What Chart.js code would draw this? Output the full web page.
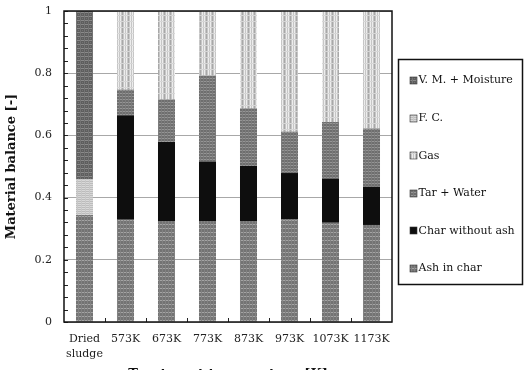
<!DOCTYPE html>
<html><head><meta charset="utf-8">
<script src="https://cdn.jsdelivr.net/npm/chart.js@4.4.1/dist/chart.umd.min.js"></script>
<style>html,body{margin:0;padding:0;background:#fff}#wrap{width:524px;height:370px;position:relative}</style>
</head><body><div id="wrap"><canvas id="c" width="524" height="370"></canvas></div>
<script>
// ---- data ----
const categories = [["Dried", "sludge"], "573K", "673K", "773K", "873K", "973K", "1073K", "1173K"];
const ashInChar       = [0.344, 0.329, 0.325, 0.325, 0.325, 0.331, 0.319, 0.312];
const charWithoutAsh  = [null,  0.336, 0.254, 0.191, 0.177, 0.148, 0.142, 0.123];
const fixedCarbon     = [0.115, null,  null,  null,  null,  null,  null,  null];
const tarWater        = [null,  0.082, 0.137, 0.277, 0.185, 0.133, 0.182, 0.187];
const gasYield        = [null,  0.253, 0.284, 0.207, 0.313, 0.388, 0.357, 0.378];
const volatileMoist   = [0.541, null,  null,  null,  null,  null,  null,  null];
const yTickValues = [0, 0.2, 0.4, 0.6, 0.8, 1];
const yTickLabels = ["0", "0.2", "0.4", "0.6", "0.8", "1"];
const legendOrder = ["V. M. + Moisture", "F. C.", "Gas", "Tar + Water", "Char without ash", "Ash in char"];

// ---- textures ----
function tile(w, h, base, painter) {
  const c = document.createElement('canvas'); c.width = w; c.height = h;
  const g = c.getContext('2d'); g.fillStyle = base; g.fillRect(0, 0, w, h);
  painter(g);
  return document.getElementById('c').getContext('2d').createPattern(c, 'repeat');
}
const patAsh = tile(6, 4, '#737373', g => { g.fillStyle = '#a4a4a4'; g.fillRect(0, 0, 6, 1); g.fillStyle = '#828282'; g.fillRect(0, 0, 1, 4); g.fillRect(3, 0, 1, 4); });
const patChar = '#0e0e0e';
const patTar = tile(6, 3, '#6e6e6e', g => { g.fillStyle = '#959595'; g.fillRect(0, 0, 6, 1); g.fillStyle = '#7c7c7c'; g.fillRect(2, 0, 1, 3); g.fillRect(5, 0, 1, 3); });
const patGas = tile(6, 6, '#c6c6c6', g => { g.fillStyle = '#ededed'; g.fillRect(0, 0, 1, 6); g.fillRect(4, 0, 1, 6); g.fillStyle = '#a8a8a8'; g.fillRect(2, 0, 1, 6); g.fillStyle = '#d6d6d6'; g.fillRect(0, 3, 6, 1); });
const patFC = tile(4, 4, '#bcbcbc', g => { g.fillStyle = '#d8d8d8'; g.fillRect(0, 0, 4, 1); g.fillRect(0, 2, 4, 1); g.fillStyle = '#c8c8c8'; g.fillRect(1, 0, 1, 4); });
const patVM = tile(4, 4, '#5e5e5e', g => { g.fillStyle = '#8a8a8a'; g.fillRect(0, 0, 4, 1); g.fillStyle = '#747474'; g.fillRect(0, 0, 1, 4); g.fillRect(2, 2, 1, 1); });

const FONT = "'DejaVu Serif', serif";

const datasets = [
  { label: "Ash in char", data: ashInChar, backgroundColor: patAsh },
  { label: "Char without ash", data: charWithoutAsh, backgroundColor: patChar },
  { label: "F. C.", data: fixedCarbon, backgroundColor: patFC },
  { label: "Tar + Water", data: tarWater, backgroundColor: patTar },
  { label: "Gas", data: gasYield, backgroundColor: patGas },
  { label: "V. M. + Moisture", data: volatileMoist, backgroundColor: patVM }
].map(d => Object.assign(d, { borderWidth: 0, barPercentage: 0.415, categoryPercentage: 1 }));

const framePlugin = {
  id: 'frame',
  afterDatasetsDraw(chart) {
    const { ctx, chartArea: a, scales } = chart;
    const y = scales.y, x = scales.x;
    ctx.save();
    ctx.strokeStyle = '#222'; ctx.lineWidth = 1;
    for (let v = 0; v <= 1.0001; v += 0.04) {
      const py = Math.round(y.getPixelForValue(v)) + 0.5;
      ctx.beginPath(); ctx.moveTo(a.left, py); ctx.lineTo(a.left + 4, py); ctx.stroke();
    }
    for (let i = 1; i < categories.length; i++) {
      const px = Math.round((x.getPixelForValue(i - 1) + x.getPixelForValue(i)) / 2) + 0.5;
      ctx.beginPath(); ctx.moveTo(px, a.bottom); ctx.lineTo(px, a.bottom - 4); ctx.stroke();
    }
    ctx.strokeStyle = '#111'; ctx.lineWidth = 1.5;
    ctx.strokeRect(a.left, a.top, a.right - a.left, a.bottom - a.top);
    ctx.restore();
  },
  afterDraw(chart) {
    const { ctx } = chart;
    const bx = 398.5, by = 59.5, bw = 124, bh = 225;
    ctx.save();
    ctx.strokeStyle = '#111'; ctx.lineWidth = 1.5;
    ctx.strokeRect(bx, by, bw, bh);
    ctx.font = "11px " + FONT; ctx.textBaseline = 'middle';
    legendOrder.forEach((lab, i) => {
      const ds = chart.data.datasets.find(d => d.label === lab);
      const cy = 80 + i * 37.6;
      ctx.fillStyle = ds.backgroundColor;
      ctx.fillRect(410, Math.round(cy) - 3, 7, 7);
      ctx.strokeStyle = '#333'; ctx.lineWidth = 0.6;
      ctx.strokeRect(410, Math.round(cy) - 3, 7, 7);
      ctx.fillStyle = '#111';
      ctx.fillText(lab, 418.5, cy + 0.5);
    });
    ctx.restore();
  }
};

new Chart(document.getElementById('c'), {
  type: 'bar',
  data: { labels: categories, datasets },
  options: {
    responsive: false, animation: false, devicePixelRatio: 1,
    layout: { padding: { top: 11, right: 132, left: 0, bottom: 0 } },
    plugins: { legend: { display: false }, tooltip: { enabled: false } },
    scales: {
      x: {
        stacked: true,
        grid: { display: false },
        border: { display: false },
        ticks: { color: '#222', font: { family: FONT, size: 11, lineHeight: 1.35 }, padding: 2, maxRotation: 0, autoSkip: false },
        title: { display: true, text: 'Treatment temperature [K]', color: '#111', font: { family: FONT, size: 13, weight: 'bold' }, padding: { top: 0, bottom: -12 } },
        afterFit(s) { s.height = 48; }
      },
      y: {
        stacked: true, min: 0, max: 1,
        afterBuildTicks(s) { s.ticks = yTickValues.map(v => ({ value: v })); },
        grid: { color: '#a8a8a8', lineWidth: 1, drawTicks: true, tickLength: 12, tickColor: 'rgba(0,0,0,0)' },
        border: { display: false },
        ticks: { color: '#222', font: { family: FONT, size: 11 }, padding: 0,
                 callback: (v) => yTickLabels[yTickValues.indexOf(v)] ?? String(v) },
        title: { display: true, text: 'Material balance [-]', color: '#111', font: { family: FONT, size: 13, weight: 'bold' }, padding: { top: 4 } },
        afterFit(s) { s.width = 64; }
      }
    }
  },
  plugins: [framePlugin]
});
</script></body></html>
